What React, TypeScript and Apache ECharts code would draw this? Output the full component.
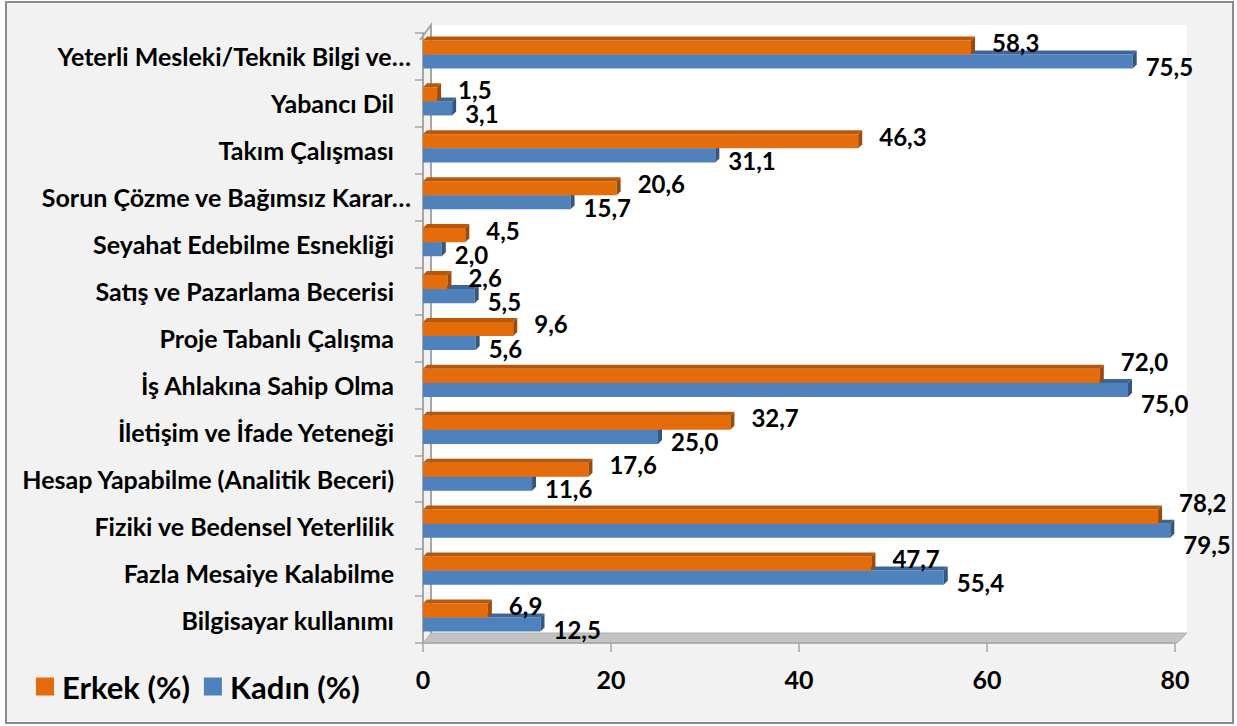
import React, { useEffect, useRef } from "react";
import * as echarts from "echarts";

const categories = [
  "Yeterli Mesleki/Teknik Bilgi ve…",
  "Yabancı Dil",
  "Takım Çalışması",
  "Sorun Çözme ve Bağımsız Karar…",
  "Seyahat Edebilme Esnekliği",
  "Satış ve Pazarlama Becerisi",
  "Proje Tabanlı Çalışma",
  "İş Ahlakına Sahip Olma",
  "İletişim ve İfade Yeteneği",
  "Hesap Yapabilme (Analitik Beceri)",
  "Fiziki ve Bedensel Yeterlilik",
  "Fazla Mesaiye Kalabilme",
  "Bilgisayar kullanımı",
];
const erkek = [58.3, 1.5, 46.3, 20.6, 4.5, 2.6, 9.6, 72.0, 32.7, 17.6, 78.2, 47.7, 6.9];
const kadin = [75.5, 3.1, 31.1, 15.7, 2.0, 5.5, 5.6, 75.0, 25.0, 11.6, 79.5, 55.4, 12.5];
const xTicks = [0, 20, 40, 60, 80];

const FONT = "Lato";

function make3DRenderer(
  isTop: boolean,
  other: number[],
  front: string,
  topC: string,
  side: string,
  offX: number,
  offY: number
) {
  return (params: any, api: any) => {
    const v = api.value(0);
    const ci = api.value(1);
    const p0 = api.coord([0, ci]);
    const p1 = api.coord([v, ci]);
    const pOther = api.coord([other[ci], ci]);
    const band = api.size([0, 1])[1];
    const h = band * 0.3;
    const cy = p0[1] - 2;
    const y0 = isTop ? cy - h : cy;
    const y1 = y0 + h;
    const x0 = p0[0];
    const x1 = p1[0];
    const d = 4;
    // push paired labels of long bars apart when their bar ends are close together
    const push = Math.abs(pOther[0] - x1) < 45 && v > 50 && other[ci] > 50 ? 9 : 0;
    const ly = (y0 + y1) / 2 + offY + (isTop ? -push : push);
    return {
      type: "group",
      children: [
        {
          type: "rect",
          shape: { x: x0, y: y0, width: x1 - x0, height: h },
          style: { fill: front },
        },
        {
          type: "polygon",
          shape: { points: [[x0, y0], [x0 + d, y0 - d], [x1 + d, y0 - d], [x1, y0]] },
          style: { fill: topC },
        },
        {
          type: "polygon",
          shape: { points: [[x1, y0], [x1 + d, y0 - d], [x1 + d, y1 - d], [x1, y1]] },
          style: { fill: side },
        },
        {
          type: "text",
          style: {
            text: v.toFixed(1).replace(".", ","),
            x: x1 + d + offX,
            y: ly,
            fill: "#000",
            font: `bold 24px ${FONT}`,
            align: "left",
            verticalAlign: "middle",
          },
        },
      ],
    };
  };
}

export default function App() {
  const ref = useRef<HTMLDivElement>(null);
  useEffect(() => {
    const chart = echarts.init(ref.current!, null, { renderer: "svg" });
    const option: any = {
      animation: false,
      backgroundColor: "transparent",
      textStyle: { fontFamily: FONT },
      grid: { left: 423, right: 62, top: 33, bottom: 83 },
      legend: {
        data: [
          { name: "Erkek (%)", icon: "rect" },
          { name: "Kadın (%)", icon: "rect" },
        ],
        left: 31,
        top: 666,
        itemWidth: 18,
        itemHeight: 18,
        itemGap: 14,
        textStyle: { fontFamily: FONT, fontWeight: "bold", fontSize: 31, color: "#000", padding: [0, 0, 0, 3] },
      },
      graphic: [
        {
          type: "rect",
          z: -10,
          shape: { x: 431, y: 25, width: 756, height: 610 },
          style: { fill: "#ffffff" },
        },
        {
          type: "polygon",
          z: -9,
          shape: { points: [[423, 643], [1177, 643], [1187, 633], [431, 633]] },
          style: { fill: "#c3c3c3", stroke: "#b0b0b0", lineWidth: 1 },
        },
        {
          type: "polyline",
          z: -8,
          shape: { points: [[420, 40], [431, 25], [431, 633]] },
          style: { stroke: "#a6a6a6", lineWidth: 2, fill: "none" },
        },
      ],
      xAxis: {
        type: "value",
        min: xTicks[0],
        max: xTicks[xTicks.length - 1],
        interval: 20,
        splitLine: { show: false },
        axisLine: { show: true, lineStyle: { color: "#a6a6a6", width: 1.5 } },
        axisTick: { show: true, length: 9, lineStyle: { color: "#a6a6a6", width: 1.5 } },
        axisLabel: {
          color: "#000",
          fontFamily: FONT,
          fontWeight: "bold",
          fontSize: 25,
          margin: 23,
        },
      },
      yAxis: {
        type: "category",
        data: categories,
        inverse: true,
        offset: 3,
        axisLine: { show: true, lineStyle: { color: "#a6a6a6", width: 2 } },
        axisTick: { show: true, length: 8, lineStyle: { color: "#a6a6a6", width: 1.5 } },
        axisLabel: {
          color: "#000",
          margin: 9,
          formatter: (v: string) => (v.endsWith("…") ? `{e|${v}}` : `{n|${v}}`),
          rich: {
            e: { fontFamily: FONT, fontWeight: "bold", fontSize: 25, color: "#000" },
            n: { fontFamily: FONT, fontWeight: "bold", fontSize: 25, color: "#000", padding: [0, 17, 0, 0] },
          },
        },
      },
      series: [
        {
          name: "Erkek (%)",
          type: "custom",
          z: 4,
          itemStyle: { color: "#e46c0a" },
          renderItem: make3DRenderer(true, kadin, "#e46c0a", "#b9580a", "#9c4a07", 17, -5),
          data: erkek.map((v, i) => [v, i]),
          encode: { x: 0, y: 1 },
        },
        {
          name: "Kadın (%)",
          type: "custom",
          z: 3,
          itemStyle: { color: "#4f81bd" },
          renderItem: make3DRenderer(false, erkek, "#4f81bd", "#3d6596", "#34577f", 9, 5),
          data: kadin.map((v, i) => [v, i]),
          encode: { x: 0, y: 1 },
        },
      ],
    };
    chart.setOption(option);
    return () => chart.dispose();
  }, []);

  return (
    <div style={{ position: "absolute", left: 0, top: 0, width: 1237, height: 726, background: "#fff" }}>
      <div
        style={{
          position: "absolute",
          left: 5,
          top: 1,
          width: 1229,
          height: 723,
          boxSizing: "border-box",
          border: "2px solid #8c8c8c",
          background: "#f2f2f2",
        }}
      />
      <div ref={ref} style={{ position: "absolute", left: 0, top: 0, width: 1237, height: 726 }} />
    </div>
  );
}
